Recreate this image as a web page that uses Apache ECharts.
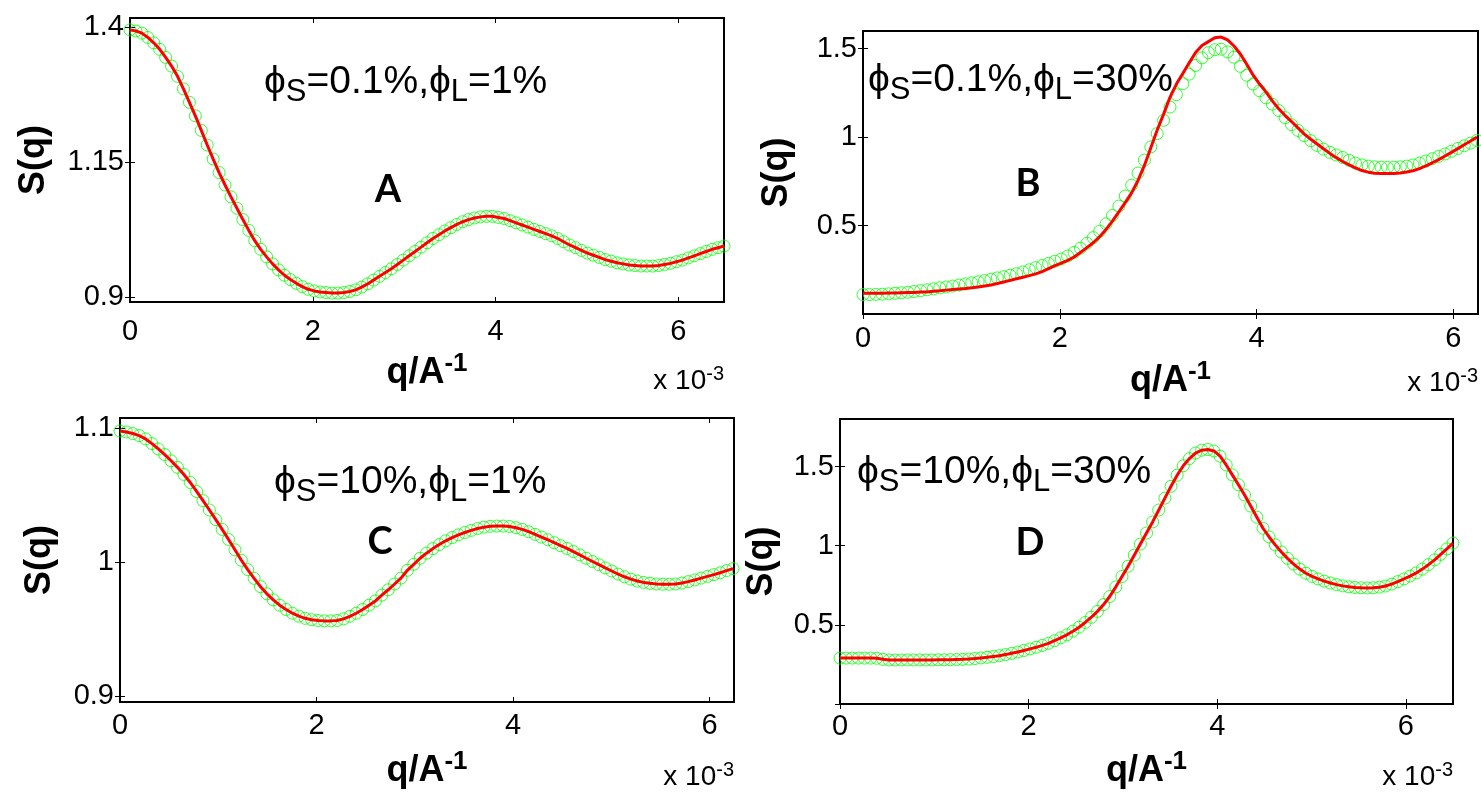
<!DOCTYPE html>
<html>
<head>
<meta charset="utf-8">
<script src="https://cdn.jsdelivr.net/npm/echarts@6/dist/echarts.min.js"></script>
<style>
  html, body { margin: 0; padding: 0; background: #fff; }
  #chart { width: 1481px; height: 799px; }
</style>
</head>
<body>
<div id="chart"></div>
<script>
// q grid, in units of 10^-3 1/A
const q = [
  0, 0.065, 0.13, 0.195, 0.26, 0.325, 0.39, 0.455, 0.52, 0.585,
  0.65, 0.715, 0.78, 0.845, 0.91, 0.975, 1.04, 1.105, 1.17, 1.235,
  1.3, 1.365, 1.43, 1.495, 1.56, 1.625, 1.69, 1.755, 1.82, 1.885,
  1.95, 2.015, 2.08, 2.145, 2.21, 2.275, 2.34, 2.405, 2.47, 2.535,
  2.6, 2.665, 2.73, 2.795, 2.86, 2.925, 2.99, 3.055, 3.12, 3.185,
  3.25, 3.315, 3.38, 3.445, 3.51, 3.575, 3.64, 3.705, 3.77, 3.835,
  3.9, 3.965, 4.03, 4.095, 4.16, 4.225, 4.29, 4.355, 4.42, 4.485,
  4.55, 4.615, 4.68, 4.745, 4.81, 4.875, 4.94, 5.005, 5.07, 5.135,
  5.2, 5.265, 5.33, 5.395, 5.46, 5.525, 5.59, 5.655, 5.72, 5.785,
  5.85, 5.915, 5.98, 6.045, 6.11, 6.175, 6.24, 6.305, 6.37, 6.435,
  6.5
]

// A: phiS=0.1%, phiL=1% (data and fit overlap)
const sqA = [
  1.395, 1.393, 1.389, 1.381, 1.371, 1.359, 1.344, 1.328, 1.309, 1.286,
  1.261, 1.236, 1.209, 1.182, 1.156, 1.131, 1.108, 1.086, 1.065, 1.044,
  1.024, 1.005, 0.989, 0.975, 0.962, 0.951, 0.941, 0.933, 0.926, 0.920,
  0.915, 0.912, 0.910, 0.909, 0.908, 0.908, 0.909, 0.911, 0.914, 0.919,
  0.925, 0.932, 0.939, 0.946, 0.953, 0.961, 0.969, 0.977, 0.985, 0.993,
  1.001, 1.009, 1.016, 1.023, 1.029, 1.035, 1.040, 1.044, 1.047, 1.049,
  1.050, 1.050, 1.048, 1.046, 1.042, 1.038, 1.034, 1.030, 1.026, 1.022,
  1.018, 1.014, 1.009, 1.003, 0.997, 0.992, 0.987, 0.982, 0.978, 0.974,
  0.970, 0.967, 0.964, 0.962, 0.960, 0.959, 0.958, 0.958, 0.958, 0.959,
  0.961, 0.963, 0.966, 0.969, 0.973, 0.977, 0.981, 0.985, 0.989, 0.992,
  0.995
]

// B: phiS=0.1%, phiL=30%
const sqBData = [
  0.110, 0.110, 0.111, 0.112, 0.114, 0.117, 0.120, 0.123, 0.127, 0.132,
  0.137, 0.142, 0.148, 0.153, 0.158, 0.164, 0.170, 0.176, 0.182, 0.189,
  0.196, 0.204, 0.211, 0.219, 0.228, 0.238, 0.250, 0.262, 0.274, 0.286,
  0.298, 0.311, 0.328, 0.348, 0.372, 0.400, 0.432, 0.468, 0.510, 0.557,
  0.610, 0.667, 0.728, 0.797, 0.870, 0.945, 1.020, 1.095, 1.170, 1.240,
  1.302, 1.356, 1.405, 1.448, 1.478, 1.494, 1.497, 1.482, 1.452, 1.400,
  1.350, 1.300, 1.262, 1.222, 1.186, 1.150, 1.110, 1.070, 1.038, 1.008,
  0.980, 0.953, 0.932, 0.914, 0.899, 0.885, 0.869, 0.853, 0.843, 0.836,
  0.832, 0.830, 0.829, 0.830, 0.832, 0.836, 0.843, 0.853, 0.865, 0.878,
  0.891, 0.905, 0.920, 0.936, 0.951, 0.966, 0.981
]
const sqBFit = [
  0.117, 0.117, 0.118, 0.118, 0.119, 0.119, 0.120, 0.121, 0.122, 0.124,
  0.125, 0.128, 0.131, 0.135, 0.138, 0.141, 0.144, 0.148, 0.153, 0.158,
  0.164, 0.172, 0.181, 0.190, 0.199, 0.208, 0.217, 0.227, 0.240, 0.256,
  0.273, 0.288, 0.303, 0.322, 0.348, 0.375, 0.403, 0.437, 0.478, 0.525,
  0.577, 0.630, 0.685, 0.755, 0.840, 0.940, 1.040, 1.130, 1.225, 1.300,
  1.360, 1.420, 1.478, 1.518, 1.540, 1.562, 1.566, 1.550, 1.515, 1.470,
  1.412, 1.350, 1.300, 1.256, 1.205, 1.160, 1.122, 1.088, 1.052, 1.017,
  0.988, 0.961, 0.934, 0.908, 0.884, 0.862, 0.843, 0.826, 0.811, 0.802,
  0.796, 0.794, 0.794, 0.794, 0.797, 0.803, 0.810, 0.822, 0.838, 0.855,
  0.873, 0.893, 0.914, 0.935, 0.957, 0.978, 1.000
]

// C: phiS=10%, phiL=1%
const sqC = [
  1.0979, 1.0972, 1.0960, 1.0945, 1.0920, 1.0885, 1.0845, 1.0803, 1.0757, 1.0708,
  1.0655, 1.0595, 1.0528, 1.0460, 1.0390, 1.0318, 1.0245, 1.0170, 1.0093, 1.0015,
  0.9945, 0.9880, 0.9818, 0.9765, 0.9720, 0.9680, 0.9648, 0.9620, 0.9598, 0.9582,
  0.9572, 0.9566, 0.9563, 0.9563, 0.9566, 0.9578, 0.9597, 0.9620, 0.9648, 0.9680,
  0.9712, 0.9755, 0.9795, 0.9838, 0.9882, 0.9940, 0.9985, 1.0030, 1.0068, 1.0102,
  1.0132, 1.0160, 1.0184, 1.0205, 1.0222, 1.0238, 1.0252, 1.0262, 1.0268, 1.0270,
  1.0270, 1.0267, 1.0258, 1.0245, 1.0228, 1.0208, 1.0188, 1.0168, 1.0146, 1.0124,
  1.0103, 1.0080, 1.0055, 1.0030, 1.0006, 0.9982, 0.9958, 0.9935, 0.9912, 0.9892,
  0.9874, 0.9860, 0.9850, 0.9843, 0.9838, 0.9836, 0.9836, 0.9838, 0.9845, 0.9856,
  0.9868, 0.9882, 0.9895, 0.9908, 0.9922, 0.9938, 0.9953
]

// D: phiS=10%, phiL=30%
const sqD = [
  0.290, 0.290, 0.290, 0.290, 0.290, 0.290, 0.289, 0.282, 0.278, 0.278,
  0.278, 0.278, 0.278, 0.278, 0.278, 0.278, 0.279, 0.279, 0.280, 0.281,
  0.282, 0.284, 0.287, 0.291, 0.295, 0.300, 0.305, 0.312, 0.320, 0.328,
  0.338, 0.348, 0.358, 0.370, 0.383, 0.400, 0.418, 0.437, 0.460, 0.485,
  0.515, 0.548, 0.585, 0.628, 0.679, 0.740, 0.805, 0.870, 0.940, 1.010,
  1.080, 1.150, 1.225, 1.300, 1.375, 1.445, 1.505, 1.550, 1.585, 1.603,
  1.607, 1.598, 1.565, 1.510, 1.447, 1.385, 1.320, 1.250, 1.180, 1.110,
  1.055, 1.005, 0.960, 0.920, 0.884, 0.852, 0.826, 0.806, 0.790, 0.776,
  0.764, 0.754, 0.746, 0.740, 0.736, 0.734, 0.733, 0.734, 0.738, 0.745,
  0.757, 0.773, 0.790, 0.808, 0.828, 0.852, 0.880, 0.910, 0.945, 0.980,
  1.016
]

const xTicks = [0, 2, 4, 6]

const FONT = '"Liberation Sans", Arial, Helvetica, sans-serif'

// layout of the four panels
const panels = [
  {
    grid: { left: 130, top: 18, width: 594, height: 284 },
    n: 101, xMax: 6.5, yMin: 0.8915, yMax: 1.417,
    yTicks: [0.9, 1.15, 1.4], yLabels: [0.9, 1.15, 1.4],
    data: sqA, fit: sqA,
    labelMargin: 15, xNameGap: 49, yNameGap: 78,
    note: '{p|ϕ}{s|S}{p|=0.1%,ϕ}{s|L}{p|=1%}', noteX: 264, noteY: 56,
    letter: 'A', letterX: 388, letterY: 190, expY: 398,
  },
  {
    grid: { left: 863, top: 31, width: 615, height: 283 },
    n: 97, xMax: 6.25, yMin: 0, yMax: 1.6,
    yTicks: [0.5, 1, 1.5], yLabels: [0.5, 1, 1.5],
    data: sqBData, fit: sqBFit,
    labelMargin: 10, xNameGap: 45, yNameGap: 68,
    note: '{p|ϕ}{s|S}{p|=0.1%,ϕ}{s|L}{p|=30%}', noteX: 868, noteY: 54,
    letter: 'B', letterX: 1028, letterY: 184, expY: 400,
  },
  {
    grid: { left: 120, top: 418, width: 614, height: 284 },
    n: 97, xMax: 6.25, yMin: 0.8958, yMax: 1.1076,
    yTicks: [0.9, 1, 1.1], yLabels: [0.9, 1, 1.1],
    data: sqC, fit: sqC,
    labelMargin: 9, xNameGap: 47, yNameGap: 62,
    note: '{p|ϕ}{s|S}{p|=10%,ϕ}{s|L}{p|=1%}', noteX: 274, noteY: 456,
    letter: 'C', letterX: 380, letterY: 542, expY: 794,
  },
  {
    grid: { left: 840, top: 419, width: 613, height: 285 },
    n: 101, xMax: 6.5, yMin: 0, yMax: 1.8,
    yTicks: [0, 0.5, 1, 1.5], yLabels: [0.5, 1, 1.5],
    data: sqD, fit: sqD,
    labelMargin: 8, xNameGap: 45, yNameGap: 60,
    note: '{p|ϕ}{s|S}{p|=10%,ϕ}{s|L}{p|=30%}', noteX: 857, noteY: 446,
    letter: 'D', letterX: 1030, letterY: 543, expY: 794,
  },
]

const tickStyle = { inside: true, length: 5, lineStyle: { color: '#000', width: 1 } }

const grids = []
const xAxes = []
const yAxes = []
const series = []
const graphics = []

panels.forEach((p, i) => {
  grids.push(Object.assign({
    show: true, borderColor: '#000', borderWidth: 2, containLabel: false,
  }, p.grid))

  // bottom + top x axes
  xAxes.push({
    type: 'value', gridIndex: i, position: 'bottom', min: 0, max: p.xMax,
    axisLine: { show: false },
    axisTick: Object.assign({ customValues: xTicks }, tickStyle),
    axisLabel: {
      customValues: xTicks, margin: p.labelMargin,
      fontSize: 29, color: '#000', fontFamily: FONT,
    },
    splitLine: { show: false },
    name: '{m|q/A}{s|-1}',
    nameLocation: 'middle',
    nameGap: p.xNameGap,
    nameTextStyle: {
      color: '#000',
      rich: {
        m: { fontSize: 36, fontWeight: 'bold', fontFamily: FONT, lineHeight: 44, color: '#000' },
        s: { fontSize: 26, fontWeight: 'bold', fontFamily: FONT, lineHeight: 26, verticalAlign: 'top', color: '#000' },
      },
    },
  })
  xAxes.push({
    type: 'value', gridIndex: i, position: 'top', min: 0, max: p.xMax,
    axisLine: { show: false },
    axisTick: Object.assign({ customValues: xTicks }, tickStyle),
    axisLabel: { show: false },
    splitLine: { show: false },
  })

  // left + right y axes
  yAxes.push({
    type: 'value', gridIndex: i, position: 'left', min: p.yMin, max: p.yMax,
    axisLine: { show: false },
    axisTick: Object.assign({ customValues: p.yTicks }, tickStyle),
    axisLabel: {
      customValues: p.yLabels, margin: 6,
      fontSize: 29, color: '#000', fontFamily: FONT,
    },
    splitLine: { show: false },
    name: 'S(q)',
    nameLocation: 'middle',
    nameGap: p.yNameGap,
    nameRotate: 90,
    nameTextStyle: { fontSize: 36, fontWeight: 'bold', fontFamily: FONT, color: '#000' },
  })
  yAxes.push({
    type: 'value', gridIndex: i, position: 'right', min: p.yMin, max: p.yMax,
    axisLine: { show: false },
    axisTick: Object.assign({ customValues: p.yTicks }, tickStyle),
    axisLabel: { show: false },
    splitLine: { show: false },
  })

  const qs = q.slice(0, p.n)

  series.push({
    type: 'scatter',
    xAxisIndex: i * 2,
    yAxisIndex: i * 2,
    data: qs.map((x, k) => [x, p.data[k]]),
    symbol: 'circle',
    symbolSize: 12,
    itemStyle: { color: 'rgba(0,0,0,0)', borderColor: '#00ff00', borderWidth: 1 },
    silent: true,
  })
  series.push({
    type: 'line',
    xAxisIndex: i * 2,
    yAxisIndex: i * 2,
    data: qs.map((x, k) => [x, p.fit[k]]),
    showSymbol: false,
    lineStyle: { color: '#ff0000', width: 3 },
    itemStyle: { color: '#ff0000' },
    silent: true,
  })

  // phi annotation
  graphics.push({
    type: 'text', x: p.noteX, y: p.noteY, silent: true,
    style: {
      text: p.note,
      textVerticalAlign: 'top',
      rich: {
        p: { fontSize: 39, fontFamily: FONT, lineHeight: 52, fill: '#000' },
        s: { fontSize: 31, fontFamily: FONT, lineHeight: 32, verticalAlign: 'bottom', fill: '#000' },
      },
    },
  })
  // panel letter
  graphics.push({
    type: 'text', x: p.letterX, y: p.letterY, silent: true,
    style: {
      text: p.letter, fill: '#000',
      fontSize: 38, fontWeight: 'bold', fontFamily: 'Lato, "Open Sans", sans-serif',
      textAlign: 'center', textVerticalAlign: 'middle',
    },
  })
  // x 10^-3 exponent
  graphics.push({
    type: 'text', x: p.grid.left + p.grid.width, y: p.expY, silent: true,
    style: {
      text: '{n|x 10}{s|-3}',
      textAlign: 'right', textVerticalAlign: 'bottom',
      rich: {
        n: { fontSize: 28, fontFamily: FONT, lineHeight: 34, fill: '#000' },
        s: { fontSize: 20, fontFamily: FONT, lineHeight: 20, verticalAlign: 'top', fill: '#000' },
      },
    },
  })
})

const chart = echarts.init(document.getElementById('chart'), null, { renderer: 'canvas' })
chart.setOption({
  backgroundColor: '#fff',
  animation: false,
  grid: grids,
  xAxis: xAxes,
  yAxis: yAxes,
  series,
  graphic: graphics,
})
</script>
</body>
</html>
